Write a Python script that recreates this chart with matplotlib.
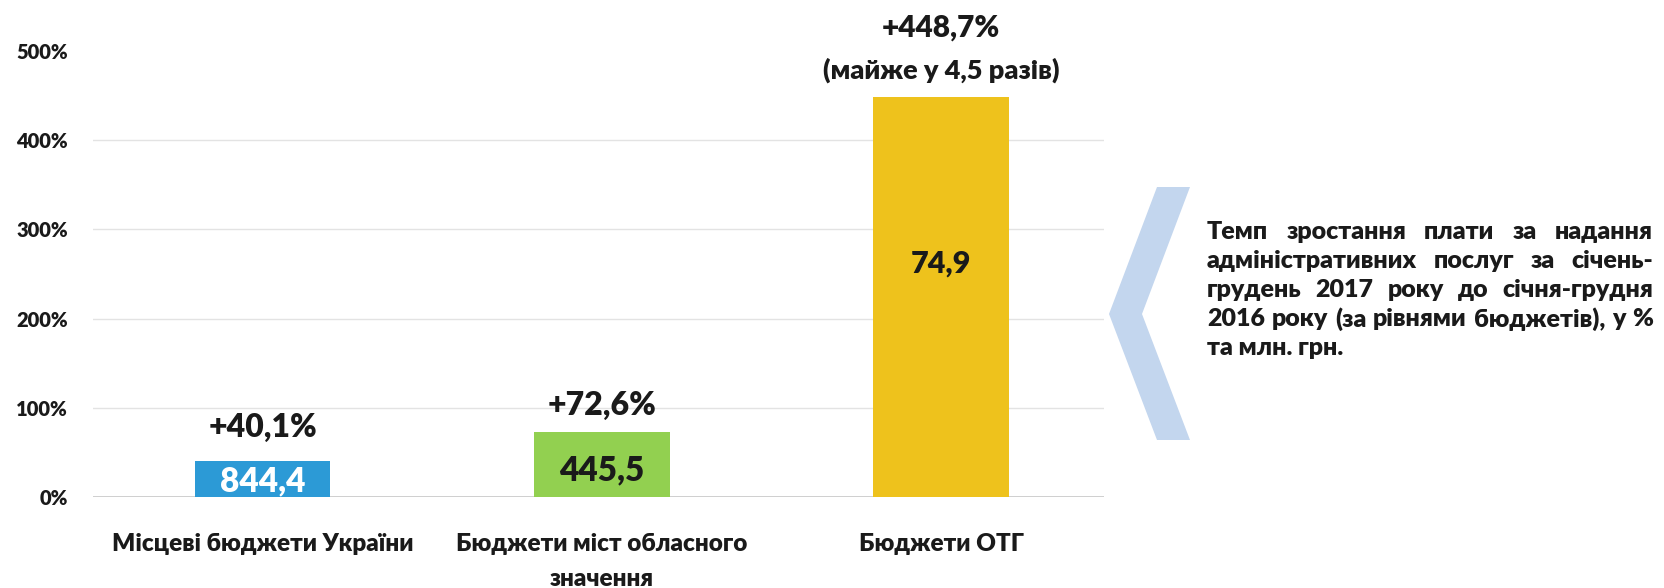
import matplotlib
matplotlib.use("Agg")
import matplotlib.pyplot as plt
from matplotlib.patches import Polygon

# data
categories = ["Місцеві бюджети України", "Бюджети міст обласного\nзначення", "Бюджети ОТГ"]
growth_pct = [40.1, 72.6, 448.7]
amounts = ["844,4", "445,5", "74,9"]
growth_notes = ["", "", "(майже у 4,5 разів)"]
y_ticks = [0, 100, 200, 300, 400, 500]
side_text = [
    "Темп зростання плати за надання",
    "адміністративних послуг за січень-",
    "грудень 2017 року до січня-грудня",
    "2016 року (за рівнями бюджетів), у %",
    "та млн. грн.",
]

# layout / style
bar_colors = ["#2C9AD6", "#92D050", "#EEC21C"]
amount_colors = ["white", "#1A1A1A", "#1A1A1A"]
amount_y = [18, 30, 262]
amount_sizes = [24, 24, 22]
label_offsets = [24, 19, 50]
TXT = "#1A1A1A"
W, H = 1665, 588

plt.rcParams['font.family'] = ['Lato', 'DejaVu Sans']
plt.rcParams['font.weight'] = 'heavy'


def main():
    fig = plt.figure(figsize=(W / 100, H / 100), dpi=100)
    fig.patch.set_facecolor("white")

    x_pos = list(range(len(categories)))
    ax = fig.add_axes([93 / W, 1 - 497 / H, (1104 - 93) / W, (497 - 51) / H])
    ax.bar(x_pos, growth_pct, width=0.4, color=bar_colors, zorder=3)
    ax.set_xlim(-0.5, 2.48)
    ax.set_ylim(0, 500)

    ax.set_yticks(y_ticks, [f"{t}%" for t in y_ticks])
    ax.set_xticks(x_pos, categories)
    ax.tick_params(axis="y", length=0, pad=18, labelsize=14.5, labelcolor=TXT)
    ax.tick_params(axis="x", length=0, pad=26, labelsize=17.5, labelcolor=TXT)
    for lab in ax.get_xticklabels():
        lab.set_linespacing(1.7)
        lab.set_verticalalignment("top")
    for s in ax.spines.values():
        s.set_visible(False)
    ax.yaxis.grid(True, color="#E3E3E3", linewidth=1.0, zorder=0)
    ax.get_ygridlines()[-1].set_visible(False)
    ax.axhline(0, color="#C8C8C8", linewidth=1.2, zorder=2)

    for x, h, amt, c, ay, sz, off, note in zip(x_pos, growth_pct, amounts, amount_colors,
                                                amount_y, amount_sizes, label_offsets,
                                                growth_notes):
        ax.text(x, ay, amt, ha="center", va="center", fontsize=sz, color=c, zorder=4)
        lab = "+" + f"{h:.1f}".replace(".", ",") + "%"
        ax.annotate(lab, xy=(x, h), xytext=(0, off), textcoords="offset points",
                    ha="center", va="center", fontsize=23 if not note else 21.5,
                    color=TXT, annotation_clip=False)
        if note:
            ax.annotate(note, xy=(x, h), xytext=(0, 19), textcoords="offset points",
                        ha="center", va="center", fontsize=19.5, color=TXT,
                        annotation_clip=False)

    # overlay in pixel coordinates for chevron and side text
    over = fig.add_axes([0, 0, 1, 1], zorder=-1)
    over.set_xlim(0, W)
    over.set_ylim(H, 0)
    over.axis("off")
    chevron = [(1157, 187), (1190, 187), (1142, 314), (1190, 440),
               (1157, 440), (1109, 314)]
    over.add_patch(Polygon(chevron, closed=True, color="#C3D6EE", lw=0))

    x0, x1 = 1207, 1653
    y0, dy = 232, 29
    renderer = fig.canvas.get_renderer()
    for i, line in enumerate(side_text):
        y = y0 + i * dy
        words = line.split(" ")
        if i == len(side_text) - 1:
            over.text(x0, y, line, ha="left", va="center", fontsize=18, color=TXT)
            continue
        items = [over.text(0, y, w, ha="left", va="center", fontsize=18, color=TXT)
                 for w in words]
        widths = [t.get_window_extent(renderer).width for t in items]
        gap = (x1 - x0 - sum(widths)) / (len(words) - 1)
        x = x0
        for t, w in zip(items, widths):
            t.set_x(x)
            x += w + gap

    fig.savefig("out.png", dpi=100, facecolor="white")


if __name__ == '__main__':
    main()
